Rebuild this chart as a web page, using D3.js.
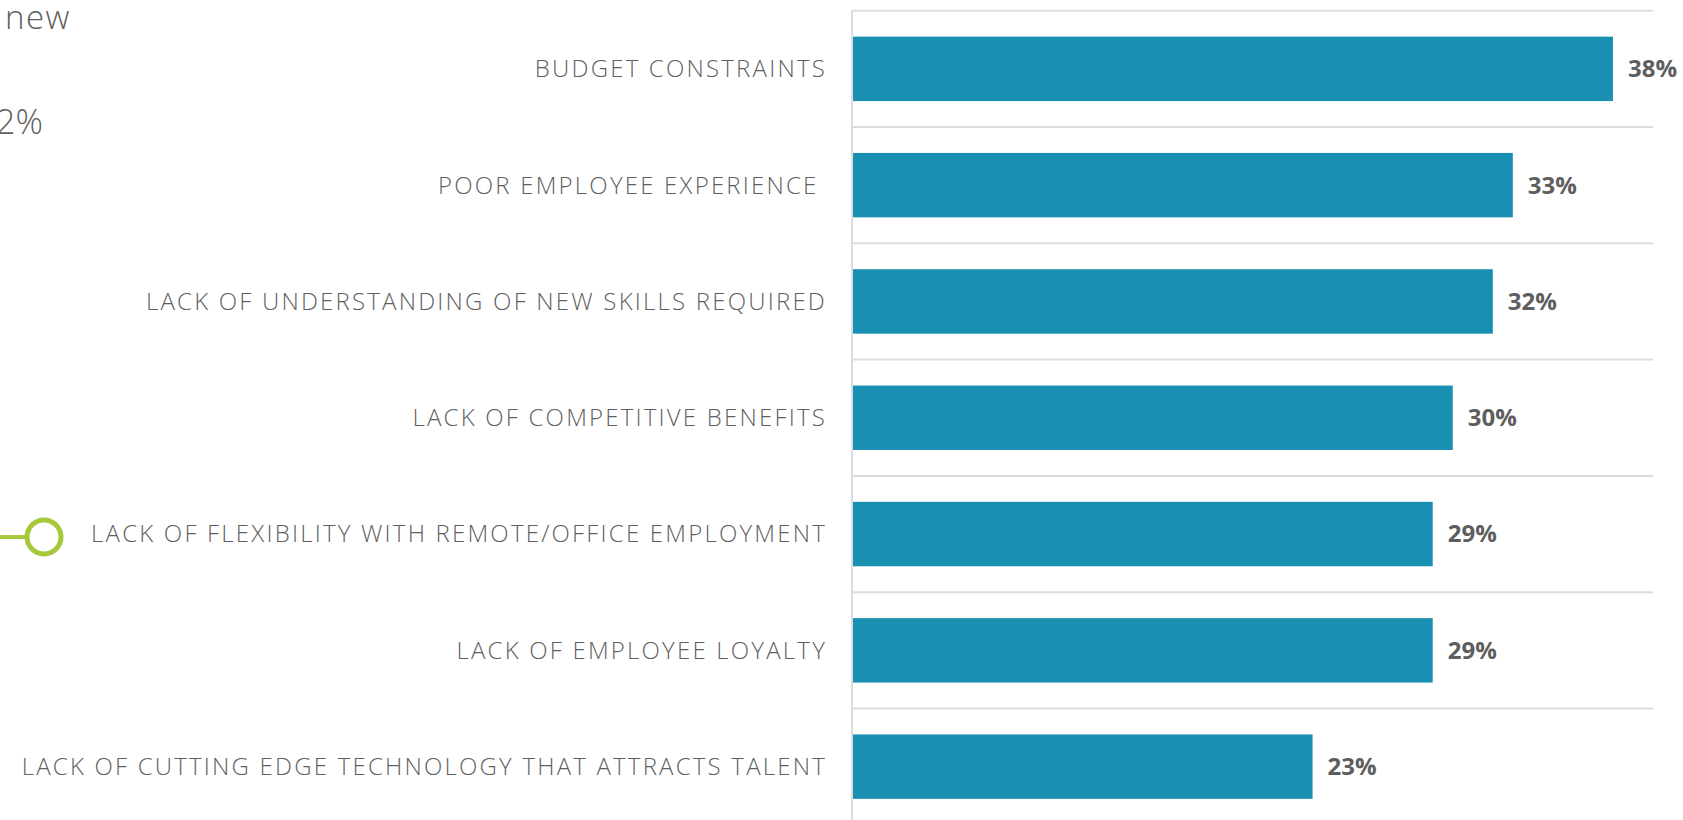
<!DOCTYPE html>
<html>
<head>
<meta charset="utf-8">
<script src="https://cdn.jsdelivr.net/npm/d3@7/dist/d3.min.js"></script>
<style>
  html, body { margin: 0; padding: 0; background: #fff; }
  svg { display: block; }
</style>
</head>
<body>
<svg id="chart"></svg>
<script>
// Survey answers: barriers to attracting / retaining talent
const categories = [
  'BUDGET CONSTRAINTS',
  'POOR EMPLOYEE EXPERIENCE ',
  'LACK OF UNDERSTANDING OF NEW SKILLS REQUIRED',
  'LACK OF COMPETITIVE BENEFITS',
  'LACK OF FLEXIBILITY WITH REMOTE/OFFICE EMPLOYMENT',
  'LACK OF EMPLOYEE LOYALTY',
  'LACK OF CUTTING EDGE TECHNOLOGY THAT ATTRACTS TALENT'
];
const values = [38, 33, 32, 30, 29, 29, 23];

// fragments of the neighbouring panel, cut by the left edge
const sideTexts = ['new', '2%'];

const W = 1683, H = 820;
const BAR_COLOR = '#198fb2';
const GRID_COLOR = '#dcdcdc';
const TEXT_COLOR = '#5f5f5f';

const svg = d3.select('#chart').attr('width', W).attr('height', H);

const x = d3.scaleLinear().domain([0, 40]).range([852, 1653]);
const y = d3.scaleBand()
  .domain(categories)
  .range([10.7, 10.7 + 7 * 116.3])
  .paddingInner(0.446)
  .paddingOuter(0.223);

const gap = (y.step() - y.bandwidth()) / 2;

// horizontal separators at the top of every band
svg.append('g')
  .selectAll('line')
  .data(categories)
  .join('line')
  .attr('x1', x(0))
  .attr('x2', x(40))
  .attr('y1', d => y(d) - gap)
  .attr('y2', d => y(d) - gap)
  .attr('stroke', GRID_COLOR)
  .attr('stroke-width', 2);

// vertical baseline
svg.append('line')
  .attr('x1', x(0)).attr('x2', x(0))
  .attr('y1', y(categories[0]) - gap)
  .attr('y2', H)
  .attr('stroke', GRID_COLOR)
  .attr('stroke-width', 2);

const rows = categories.map((c, i) => ({ cat: c, value: values[i] }));

// bars
svg.append('g')
  .selectAll('rect')
  .data(rows)
  .join('rect')
  .attr('x', x(0) + 1)
  .attr('y', d => y(d.cat))
  .attr('width', d => x(d.value) - x(0) - 1)
  .attr('height', y.bandwidth())
  .attr('fill', BAR_COLOR);

// value labels
svg.append('g')
  .selectAll('text')
  .data(rows)
  .join('text')
  .attr('x', d => x(d.value) + 15)
  .attr('y', d => y(d.cat) + y.bandwidth() / 2)
  .attr('dy', '0.35em')
  .attr('font-family', "'Open Sans', sans-serif")
  .attr('font-weight', 700)
  .attr('font-size', 24)
  .attr('fill', '#5e5e5e')
  .text(d => d.value + '%');

// category labels
svg.append('g')
  .selectAll('text')
  .data(rows)
  .join('text')
  .attr('x', 827)
  .attr('y', d => y(d.cat) + y.bandwidth() / 2)
  .attr('dy', '0.35em')
  .attr('text-anchor', 'end')
  .attr('font-family', "'Open Sans', sans-serif")
  .attr('font-weight', 300)
  .attr('font-size', 24)
  .attr('letter-spacing', 2.2)
  .attr('fill', TEXT_COLOR)
  .style('white-space', 'pre')
  .text(d => d.cat);

// cut-off text from the left panel
svg.append('text')
  .attr('x', 5).attr('y', 29)
  .attr('font-family', "'Open Sans', sans-serif")
  .attr('font-weight', 300)
  .attr('font-size', 33)
  .attr('letter-spacing', 1.5)
  .attr('fill', TEXT_COLOR)
  .text(sideTexts[0]);

svg.append('text')
  .attr('x', -4).attr('y', 134)
  .attr('font-family', "'Open Sans', sans-serif")
  .attr('font-weight', 300)
  .attr('font-size', 34)
  .attr('fill', TEXT_COLOR)
  .text(sideTexts[1]);

// green connector pointing at the highlighted row
const hl = categories[4];
const cy = y(hl) + y.bandwidth() / 2 + 3;
svg.append('line')
  .attr('x1', 0).attr('x2', 28)
  .attr('y1', cy).attr('y2', cy)
  .attr('stroke', '#a5c93a')
  .attr('stroke-width', 4);
svg.append('circle')
  .attr('cx', 44).attr('cy', cy)
  .attr('r', 17)
  .attr('fill', '#fff')
  .attr('stroke', '#a5c93a')
  .attr('stroke-width', 5);
</script>
</body>
</html>
